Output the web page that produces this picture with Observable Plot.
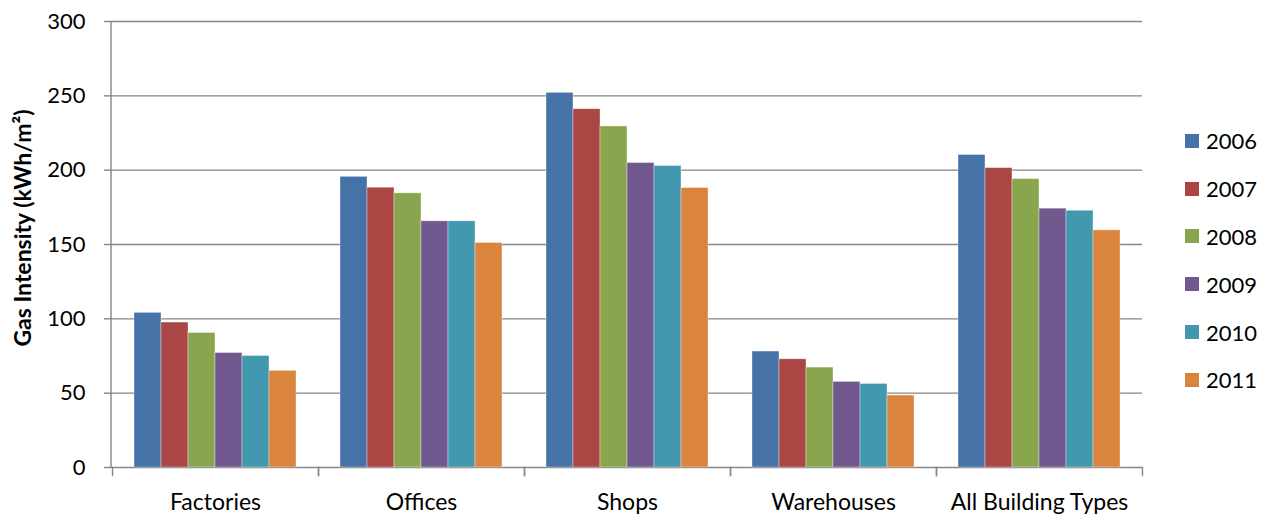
<!DOCTYPE html>
<html><head><meta charset="utf-8">
<script src="https://cdn.jsdelivr.net/npm/d3@7"></script>
<script src="https://cdn.jsdelivr.net/npm/@observablehq/plot@0.6"></script>
<style>
body{margin:0;background:#fff;font-family:Lato,"Open Sans",sans-serif;}
#wrap{position:relative;width:1272px;height:523px;overflow:hidden;}
#ytitle{position:absolute;left:22px;top:228px;transform:translate(-50%,-50%) rotate(-90deg);font-weight:bold;font-size:23px;white-space:nowrap;color:#000;}
#legend{position:absolute;left:1185px;top:117px;}
.li{height:47.8px;display:flex;align-items:center;font-size:22px;color:#000;}
.sw{width:14px;height:14px;margin-right:7px;}
</style>
</head><body>
<div id="wrap"><div id="ytitle">Gas Intensity (kWh/m²)</div><div id="legend"></div></div>
<script>
const categories = ["Factories","Offices","Shops","Warehouses","All Building Types"];
const years = ["2006","2007","2008","2009","2010","2011"];
const factories = [104,97.5,90.5,77,75,65];
const offices = [195.5,188.2,184.4,165.6,165.6,151];
const shops = [252,241,229.4,204.8,202.8,188];
const warehouses = [78,72.8,67.2,57.6,56.2,48.4];
const allTypes = [210.2,201.4,194,174.1,172.7,159.5];
const colors = ["#4572A7","#AA4643","#89A54E","#71588F","#4198AF","#DB843D"];
const yTicks = [0,50,100,150,200,250,300];

const series = [factories, offices, shops, warehouses, allTypes];
const data = categories.flatMap((c,i)=>years.map((y,j)=>({cat:c, year:y, value:series[i][j]})));

const grid = "#868686";
const chart = Plot.plot({
  width:1272, height:523,
  marginLeft:111, marginRight:129, marginTop:21, marginBottom:56,
  style:{fontFamily:"Lato, 'Open Sans', sans-serif", fontSize:"22px", color:"#000", background:"transparent"},
  fx:{domain:categories, padding:0, label:null},
  x:{domain:years, paddingInner:0, paddingOuter:0.75, axis:null},
  y:{domain:[0,300], label:null},
  color:{domain:years, range:colors},
  marks:[
    Plot.ruleY(yTicks, {stroke:grid, strokeWidth:1.4}),
    Plot.barY(data, {fx:"cat", x:"year", y:"value", fill:"year", stroke:"#fff", strokeOpacity:0.45, strokeWidth:0.8}),
    Plot.frame({anchor:"left", insetTop:446, insetBottom:-8, stroke:grid, strokeWidth:1.4}),
    Plot.frame({anchor:"right", insetTop:446, insetBottom:-8, stroke:grid, strokeWidth:1.4}),
    Plot.axisY(yTicks, {tickSize:8, tickPadding:19, stroke:grid, strokeWidth:1.4, fill:"#000", label:null, tickFormat:d=>String(d)}),
    Plot.axisFx({anchor:"bottom", tickSize:0, tickPadding:26, label:null, fill:"#000", fontSize:23})
  ]
});
const yr = chart.scale("y").range;
d3.select(chart).append("line")
  .attr("x1",111).attr("x2",111).attr("y1",yr[0]).attr("y2",yr[1])
  .attr("stroke",grid).attr("stroke-width",1.4);
const wrap = document.getElementById("wrap");
wrap.insertBefore(chart, wrap.firstChild);
chart.style.position="absolute"; chart.style.left="0"; chart.style.top="0";
const lg = d3.select("#legend");
years.forEach((y,i)=>{
  const it = lg.append("div").attr("class","li");
  it.append("div").attr("class","sw").style("background",colors[i]);
  it.append("span").text(y);
});
</script>
</body></html>
